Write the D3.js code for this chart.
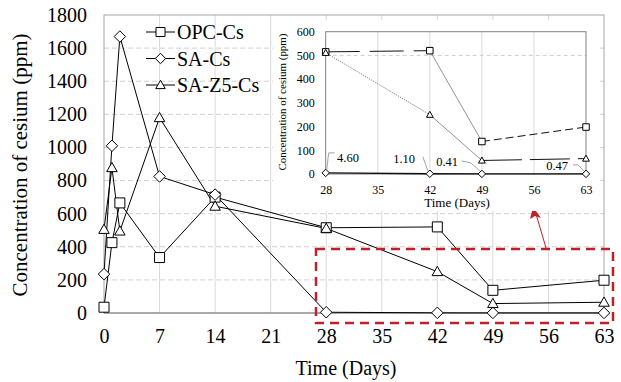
<!DOCTYPE html>
<html><head><meta charset="utf-8">
<script src="https://cdn.jsdelivr.net/npm/d3@7"></script>
<style>
html,body{margin:0;padding:0;background:#fff;}
svg text{font-family:"Liberation Serif","Times New Roman",serif !important;}
</style></head>
<body>
<svg id="c" width="621" height="382"></svg>
<script>
// ---- data ----
const days = [0, 1, 2, 7, 14, 28, 42, 49, 63];
const seriesNames = ["OPC-Cs", "SA-Cs", "SA-Z5-Cs"];
const opcValues = [35, 425, 665, 335, 700, 515, 520, 137, 198];
const saValues = [235, 1010, 1670, 825, 715, 4.60, 1.10, 0.41, 0.47];
const saz5Values = [505, 878, 495, 1180, 645, 511, 250, 57, 65];
const xTicks = [0, 7, 14, 21, 28, 35, 42, 49, 56, 63];
const yTicks = [0, 200, 400, 600, 800, 1000, 1200, 1400, 1600, 1800];
const insetXTicks = [28, 35, 42, 49, 56, 63];
const insetYTicks = [0, 100, 200, 300, 400, 500, 600];
const insetLabels = ["4.60", "1.10", "0.41", "0.47"];
const insetLabelDays = [28, 42, 49, 63];

const FONT = "'Liberation Serif','Times New Roman',serif";
const svg = d3.select("#c");
const series = [
  {name: seriesNames[0], values: opcValues, shape: "square"},
  {name: seriesNames[1], values: saValues, shape: "diamond"},
  {name: seriesNames[2], values: saz5Values, shape: "triangle"}
];

function markerPath(shape, s) {
  const h = s / 2;
  if (shape === "square") return `M${-h},${-h}H${h}V${h}H${-h}Z`;
  if (shape === "diamond") return `M0,${-h*1.15}L${h*1.15},0L0,${h*1.15}L${-h*1.15},0Z`;
  return `M0,${-h*1.05}L${h*1.05},${h*0.8}L${-h*1.05},${h*0.8}Z`;
}

// ---- main chart ----
const x = d3.scaleLinear().domain([0, 63]).range([104, 604]);
const y = d3.scaleLinear().domain([0, 1800]).range([313, 15]);

const g = svg.append("g");
g.selectAll(".vg").data(xTicks.filter(d => d > 0 && d < 63)).enter().append("line")
  .attr("x1", d => x(d)).attr("x2", d => x(d)).attr("y1", y(1800)).attr("y2", y(0))
  .attr("stroke", "#d9d9d9").attr("stroke-width", 1);
g.selectAll(".hg").data(yTicks.filter(d => d > 0 && d < 1800)).enter().append("line")
  .attr("x1", x(0)).attr("x2", x(63)).attr("y1", d => y(d)).attr("y2", d => y(d))
  .attr("stroke", "#d0d0d0").attr("stroke-width", 1).attr("stroke-dasharray", "5,3");
g.append("rect").attr("x", x(0)).attr("y", y(1800)).attr("width", x(63) - x(0)).attr("height", y(0) - y(1800))
  .attr("fill", "none").attr("stroke", "#a6a6a6").attr("stroke-width", 1);
g.append("line").attr("x1", x(0)).attr("x2", x(63)).attr("y1", y(0)).attr("y2", y(0))
  .attr("stroke", "#808080").attr("stroke-width", 1.2);

const xAxis = d3.axisBottom(x).tickValues(xTicks).tickFormat(d3.format("d")).tickSize(0).tickPadding(16);
const xa = g.append("g").attr("transform", `translate(0,${y(0)})`).call(xAxis)
  .attr("font-family", FONT).attr("font-size", 20);
xa.select(".domain").remove();
xa.selectAll("text").attr("fill", "#000");
const yAxis = d3.axisLeft(y).tickValues(yTicks).tickFormat(d3.format("d")).tickSize(0).tickPadding(17);
const ya = g.append("g").attr("transform", `translate(${x(0)},0)`).call(yAxis)
  .attr("font-family", FONT).attr("font-size", 20);
ya.select(".domain").remove();
ya.selectAll("text").attr("fill", "#000");

svg.append("text").attr("x", 346).attr("y", 375).attr("text-anchor", "middle")
  .attr("font-family", FONT).attr("font-size", 20).text("Time (Days)");
svg.append("text").attr("transform", "translate(27,165) rotate(-90)").attr("text-anchor", "middle")
  .attr("font-family", FONT).attr("font-size", 21).text("Concentration of cesium (ppm)");

const line = d3.line().x((d, i) => x(days[i])).y(d => y(d));
series.forEach(s => {
  g.append("path").attr("d", line(s.values)).attr("fill", "none").attr("stroke", "#000").attr("stroke-width", 1);
});
series.forEach(s => {
  g.selectAll(null).data(s.values).enter().append("path")
    .attr("transform", (d, i) => `translate(${x(days[i])},${y(d)})`)
    .attr("d", markerPath(s.shape, 10)).attr("fill", "#fff").attr("stroke", "#000").attr("stroke-width", 1);
});

// legend
const lg = svg.append("g");
series.forEach((s, i) => {
  const ly = 32 + i * 26.5;
  lg.append("line").attr("x1", 146).attr("x2", 175).attr("y1", ly).attr("y2", ly).attr("stroke", "#000").attr("stroke-width", 1);
  lg.append("path").attr("transform", `translate(160.5,${ly})`).attr("d", markerPath(s.shape, 9))
    .attr("fill", "#fff").attr("stroke", "#000");
  lg.append("text").attr("x", 177).attr("y", ly + 7).attr("font-family", FONT).attr("font-size", 20).text(s.name);
});

// red dashed box + arrow
svg.append("rect").attr("x", 316).attr("y", 249).attr("width", 297).attr("height", 74)
  .attr("fill", "none").attr("stroke", "#c0202a").attr("stroke-width", 2.5).attr("stroke-dasharray", "9,6");
svg.append("line").attr("x1", 546).attr("y1", 248).attr("x2", 536).attr("y2", 214)
  .attr("stroke", "#c0202a").attr("stroke-width", 1);
svg.append("path").attr("d", "M533,207 L541,218 L535,216 L530,219 Z").attr("fill", "#c0202a");

// ---- inset ----
const ig = svg.append("g");
ig.append("rect").attr("x", 273).attr("y", 20).attr("width", 327).attr("height", 191).attr("fill", "#fff");
const ix = d3.scaleLinear().domain([28, 63]).range([325.7, 586]);
const iy = d3.scaleLinear().domain([0, 600]).range([174, 31.7]);
ig.selectAll(".ivg").data(insetXTicks.filter(d => d > 28 && d < 63)).enter().append("line")
  .attr("x1", d => ix(d)).attr("x2", d => ix(d)).attr("y1", iy(600)).attr("y2", iy(0))
  .attr("stroke", "#d9d9d9").attr("stroke-width", 1);
ig.append("line").attr("x1", ix(28)).attr("x2", ix(63)).attr("y1", iy(500)).attr("y2", iy(500))
  .attr("stroke", "#cfcfcf").attr("stroke-dasharray", "4,3");
ig.append("rect").attr("x", ix(28)).attr("y", iy(600)).attr("width", ix(63) - ix(28)).attr("height", iy(0) - iy(600))
  .attr("fill", "none").attr("stroke", "#808080").attr("stroke-width", 1);

const ixa = ig.append("g").attr("transform", `translate(0,${iy(0)})`)
  .call(d3.axisBottom(ix).tickValues(insetXTicks).tickFormat(d3.format("d")).tickSize(0).tickPadding(11))
  .attr("font-family", FONT).attr("font-size", 12);
ixa.select(".domain").remove();
ixa.selectAll("text").attr("fill", "#000");
const iya = ig.append("g").attr("transform", `translate(${ix(28)},0)`)
  .call(d3.axisLeft(iy).tickValues(insetYTicks).tickFormat(d3.format("d")).tickSize(0).tickPadding(11))
  .attr("font-family", FONT).attr("font-size", 12);
iya.select(".domain").remove();
iya.selectAll("text").attr("fill", "#000");
ig.append("text").attr("x", 457).attr("y", 207).attr("text-anchor", "middle").attr("font-family", FONT)
  .attr("font-size", 13).text("Time (Days)");
ig.append("text").attr("transform", "translate(286,102) rotate(-90)").attr("text-anchor", "middle")
  .attr("font-family", FONT).attr("font-size", 11).attr("textLength", 137).attr("lengthAdjust", "spacingAndGlyphs")
  .text("Concentration of cesium (ppm)");

const insetStyles = [
  [{c: "#111", w: 1, d: "34,10"}, {c: "#777", w: 0.8, d: null}, {c: "#111", w: 1, d: "8,4"}],
  [{c: "#111", w: 1.3, d: null}, {c: "#111", w: 1.3, d: null}, {c: "#111", w: 1.3, d: null}],
  [{c: "#555", w: 0.8, d: "1.2,1.2"}, {c: "#777", w: 0.8, d: null}, {c: "#111", w: 1, d: "40,8"}]
];
const startIdx = days.indexOf(28);
const iDays = days.slice(startIdx);
series.forEach((s, si) => {
  const vals = s.values.slice(startIdx);
  for (let k = 0; k < vals.length - 1; k++) {
    const st = insetStyles[si][k];
    const seg = ig.append("line").attr("x1", ix(iDays[k])).attr("y1", iy(vals[k]))
      .attr("x2", ix(iDays[k + 1])).attr("y2", iy(vals[k + 1]))
      .attr("stroke", st.c).attr("stroke-width", st.w);
    if (st.d) seg.attr("stroke-dasharray", st.d);
  }
});
series.forEach(s => {
  const vals = s.values.slice(startIdx);
  ig.selectAll(null).data(vals).enter().append("path")
    .attr("transform", (d, i) => `translate(${ix(iDays[i])},${iy(d)})`)
    .attr("d", markerPath(s.shape, 6.5)).attr("fill", "#fff").attr("stroke", "#000").attr("stroke-width", 1);
});
const labelPos = [[337, 162, "start"], [415, 163, "end"], [458, 166, "end"], [568, 170, "end"]];
const leaders = [
  (px, py) => `M${px+1},${py-3} L${px+3},${py-20} L${px+9},${py-20}`,
  (px, py) => `M${px-2},${py-3} L${px-7},${py-17}`,
  (px, py) => `M${px-2},${py-3} L${px-11},${py-11} L${px-20},${py-13}`,
  (px, py) => `M${px-2},${py-3} L${px-8},${py-9} L${px-13},${py-9}`
];
insetLabels.forEach((t, i) => {
  const px = ix(insetLabelDays[i]), py = iy(saValues[days.indexOf(insetLabelDays[i])]);
  ig.append("path").attr("d", leaders[i](px, py)).attr("fill", "none").attr("stroke", "#8c8c8c").attr("stroke-width", 0.8);
  ig.append("text").attr("x", labelPos[i][0]).attr("y", labelPos[i][1]).attr("text-anchor", labelPos[i][2])
    .attr("font-family", FONT).attr("font-size", 12.5).text(t);
});
</script>
</body></html>
